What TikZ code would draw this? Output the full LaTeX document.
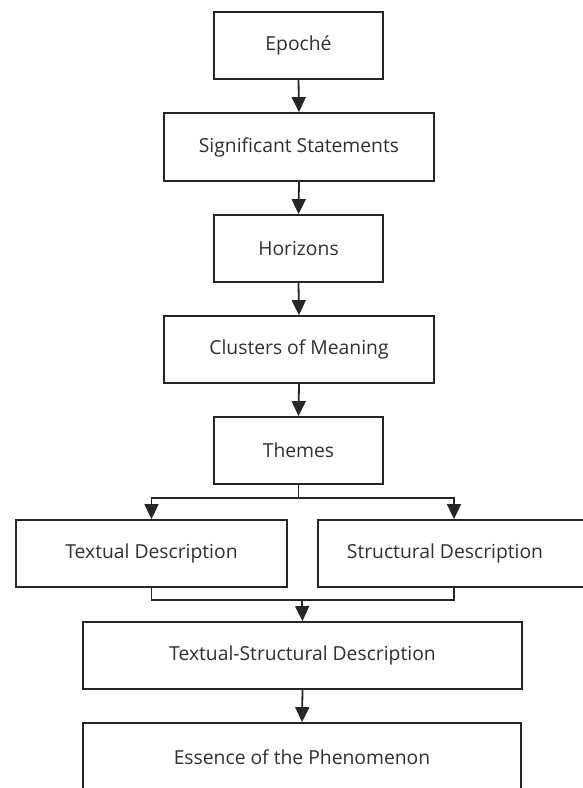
\documentclass[tikz,border=0pt]{standalone}
\usepackage{fontspec}
\setmainfont{Open Sans}
\usetikzlibrary{arrows.meta}
\definecolor{linec}{HTML}{262626}
\definecolor{textc}{HTML}{303030}
\tikzset{
  box/.style={draw=linec, line width=1.8pt, fill=white, inner sep=0pt, text=textc, font=\fontsize{19.3}{22}\selectfont},
  txt/.style={inner sep=0pt, text=textc, font=\fontsize{19.3}{22}\selectfont},
  arr/.style={draw=linec, line width=1.8pt, -{Triangle[width=14pt,length=15pt]}},
  ln/.style={draw=linec, line width=1.8pt},
}
\begin{document}
\begin{tikzpicture}[x=1pt,y=-1pt]
\useasboundingbox (0,0) rectangle (583,788);
\clip (0,0) rectangle (583,788);
% boxes: centre x, centre y, width, height
\node[box, minimum width=169pt, minimum height=67pt] (epo) at (298.5,45.5) {Epoché};
\node[box, minimum width=270pt, minimum height=68pt] (sig) at (299,147) {Significant Statements};
\node[box, minimum width=169pt, minimum height=67pt] (hor) at (298.5,248.5) {Horizons};
\node[box, minimum width=270pt, minimum height=67pt] (clu) at (299,349.5) {Clusters of Meaning};
\node[box, minimum width=169pt, minimum height=67pt] (the) at (298.5,450.5) {Themes};
\node[box, minimum width=271pt, minimum height=67pt] (tex) at (151.5,553.5) {Textual Description};
\node[box, minimum width=272pt, minimum height=67pt] (str) at (454,553.5) {};
\node[txt] (strl) at (445,553.5) {Structural Description};
\node[box, minimum width=439pt, minimum height=67pt] (ts) at (302.5,655.5) {Textual-Structural Description};
\node[box, minimum width=438pt, minimum height=68pt] (ess) at (302,757) {Essence of the Phenomenon};
% connectors
\draw[arr] (epo.south) -- (sig.north);
\draw[arr] (sig.south) -- (hor.north);
\draw[arr] (hor.south) -- (clu.north);
\draw[arr] (clu.south) -- (the.north);
\coordinate (split) at (298.5,498);
\coordinate (merge) at (302,600);
\draw[ln] (the.south) -- (split);
\draw[arr] (split) -| (tex.north);
\draw[arr] (split) -| (str.north);
\draw[ln] (tex.south) |- (merge);
\draw[ln] (str.south) |- (merge);
\draw[arr] (merge) -- (ts.north);
\draw[arr] (ts.south) -- (ess.north);
\end{tikzpicture}
\end{document}
